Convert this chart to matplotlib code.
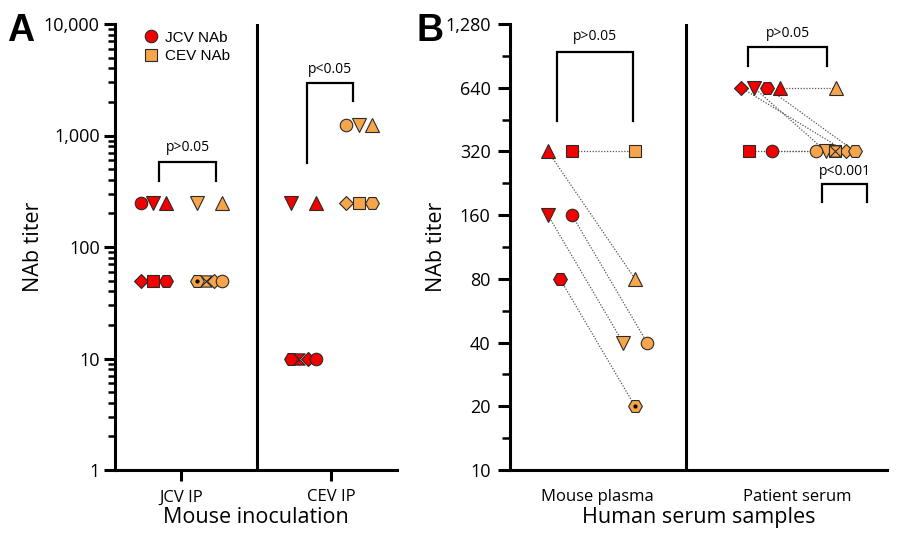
import numpy as np
import matplotlib
matplotlib.use("Agg")
import matplotlib.pyplot as plt
from matplotlib.path import Path
from matplotlib.lines import Line2D
from matplotlib.ticker import FixedLocator, NullFormatter

plt.rcParams['font.family'] = ['Open Sans', 'DejaVu Sans']

# ---------------- Data ----------------
# Panel A
a_groups = ['JCV IP', 'CEV IP']
a_yticks = [1, 10, 100, 1000, 10000]
a_yticklabels = ['1', '10', '100', '1,000', '10,000']

a_jcvip_jcv_shapes = ['circle', 'down', 'up', 'diamond', 'square', 'hexagon']
a_jcvip_jcv = [250, 250, 250, 50, 50, 50]
a_jcvip_cev_shapes = ['down', 'up', 'hexdot', 'bowtie', 'diamond', 'circle']
a_jcvip_cev = [250, 250, 50, 50, 50, 50]
a_cevip_jcv_shapes = ['down', 'up', 'hexagon', 'bowtie', 'diamond', 'circle']
a_cevip_jcv = [250, 250, 10, 10, 10, 10]
a_cevip_cev_shapes = ['circle', 'down', 'up', 'diamond', 'square', 'hexagon']
a_cevip_cev = [1250, 1250, 1250, 250, 250, 250]

# Panel B
b_groups = ['Mouse plasma', 'Patient serum']
b_yticks = [10, 20, 40, 80, 160, 320, 640, 1280]
b_yticklabels = ['10', '20', '40', '80', '160', '320', '640', '1,280']

mouse_shapes = ['up', 'square', 'down', 'circle', 'hexagon']
mouse_jcv = [320, 320, 160, 160, 80]
mouse_cev = [80, 320, 40, 40, 20]

patient_shapes = ['diamond', 'down', 'hexagon', 'up', 'square', 'circle']
patient_jcv = [640, 640, 640, 640, 320, 320]
patient_cev = [320, 320, 320, 640, 320, 320]
patient_cev_extra_shapes = ['bowtie']
patient_cev_extra = [320]

# ---------------- Layout (positions / styles) ----------------
off_a_jcvip_jcv = [-0.267, -0.187, -0.10, -0.267, -0.187, -0.10]
off_a_jcvip_cev = [0.107, 0.273, 0.107, 0.167, 0.22, 0.273]
off_a_cevip_jcv = [-0.267, -0.10, -0.267, -0.213, -0.153, -0.10]
off_a_cevip_cev = [0.10, 0.187, 0.273, 0.10, 0.187, 0.273]

off_mouse_jcv = [-0.245, -0.125, -0.245, -0.125, -0.185]
off_mouse_cev = [0.19, 0.19, 0.13, 0.25, 0.19]
off_pat_jcv = [-0.28, -0.215, -0.15, -0.085, -0.24, -0.125]
off_pat_cev = [0.245, 0.145, 0.29, 0.195, 0.19, 0.095]
off_pat_cev_extra = [0.19]

RED = '#F20000'
ORANGE = '#F7A54C'
EDGE = '#2a2a2a'
MS = 9.0

bowtie = Path([(-1, 1), (1, 1), (0, 0), (1, -1), (-1, -1), (0, 0), (-1, 1)],
              [Path.MOVETO, Path.LINETO, Path.LINETO, Path.LINETO, Path.LINETO,
               Path.LINETO, Path.CLOSEPOLY])

MARK = {'circle': ('o', 1.0), 'down': ('v', 1.05), 'up': ('^', 1.05),
        'diamond': ('D', 0.82), 'square': ('s', 0.95), 'hexagon': ('H', 1.1),
        'hexdot': ('H', 1.1), 'bowtie': (bowtie, 0.9)}


def draw_point(ax, x, y, shape, color):
    m, s = MARK[shape]
    ax.plot([x], [y], linestyle='none', marker=m, markersize=MS * s,
            markerfacecolor=color, markeredgecolor=EDGE, markeredgewidth=0.8,
            zorder=4)
    if shape == 'hexdot':
        ax.plot([x], [y], linestyle='none', marker='o', markersize=2,
                color='black', zorder=5)


def bracket(ax, x0, x1, ytop, yl, yr, text, ty, lw=1.6):
    ax.plot([x0, x0, x1, x1], [yl, ytop, ytop, yr], color='black', lw=lw,
            solid_joinstyle='miter', zorder=3, clip_on=False)
    ax.text((x0 + x1) / 2, ty, text, ha='center', va='center', fontsize=10)


fig = plt.figure(figsize=(9, 5.35), dpi=100)

# ---------------- Panel A ----------------
axA = fig.add_axes([115 / 900, 65 / 535, 282 / 900, 446 / 535])
axA.set_yscale('log')
axA.set_ylim(1, 10000)
axA.set_xlim(-0.44, 1.44)

for xs, vals, shapes, offs, col in [
        (0, a_jcvip_jcv, a_jcvip_jcv_shapes, off_a_jcvip_jcv, RED),
        (0, a_jcvip_cev, a_jcvip_cev_shapes, off_a_jcvip_cev, ORANGE),
        (1, a_cevip_jcv, a_cevip_jcv_shapes, off_a_cevip_jcv, RED),
        (1, a_cevip_cev, a_cevip_cev_shapes, off_a_cevip_cev, ORANGE)]:
    for v, sh, o in zip(vals, shapes, offs):
        draw_point(axA, xs + o, v, sh, col)

axA.axvline(0.507, color='black', lw=2.2, zorder=2)
bracket(axA, -0.147, 0.233, 578, 391, 391, 'p>0.05', 773)
bracket(axA, 0.84, 1.147, 2930, 561, 2060, 'p<0.05', 3900)

axA.set_xticks([0, 1])
axA.set_xticklabels(a_groups, fontsize=12)
axA.yaxis.set_major_locator(FixedLocator(a_yticks))
axA.set_yticklabels(a_yticklabels, fontsize=13)
minors = [m * 10 ** d for d in range(4) for m in range(2, 10)]
axA.yaxis.set_minor_locator(FixedLocator(minors))
axA.yaxis.set_minor_formatter(NullFormatter())
axA.tick_params(axis='y', which='major', length=8, width=2.2, pad=3)
axA.tick_params(axis='y', which='minor', length=5, width=1.8)
axA.tick_params(axis='x', which='major', length=8, width=2.2, pad=6)
for s in ['top', 'right']:
    axA.spines[s].set_visible(False)
for s in ['left', 'bottom']:
    axA.spines[s].set_linewidth(2.2)

axA.set_ylabel('NAb titer', fontsize=15.5)
axA.yaxis.set_label_coords(-0.29, 0.5)
axA.yaxis.label.set_va('center')
axA.set_xlabel('Mouse inoculation', fontsize=15.5)
axA.xaxis.set_label_coords(0.5, -0.107)
axA.xaxis.label.set_va('center')

leg_handles = [
    Line2D([], [], linestyle='none', marker='o', markersize=MS, markerfacecolor=RED,
           markeredgecolor=EDGE, markeredgewidth=0.8, label='JCV NAb'),
    Line2D([], [], linestyle='none', marker='s', markersize=MS * 0.95,
           markerfacecolor=ORANGE, markeredgecolor=EDGE, markeredgewidth=0.8,
           label='CEV NAb')]
axA.legend(handles=leg_handles, loc='upper left', bbox_to_anchor=(0.10, 0.985),
           frameon=False, borderpad=0, borderaxespad=0, handlelength=1.0,
           handletextpad=0.45, labelspacing=0.3,
           prop={'family': 'Liberation Sans', 'size': 11})

# ---------------- Panel B ----------------
axB = fig.add_axes([510 / 900, 65 / 535, 377 / 900, 446 / 535])
axB.set_yscale('log', base=2)
axB.set_ylim(10, 1280)
axB.set_xlim(-0.435, 1.45)

for sh, vj, vc, oj, oc in zip(mouse_shapes, mouse_jcv, mouse_cev,
                              off_mouse_jcv, off_mouse_cev):
    axB.plot([oj, oc], [vj, vc], color='#555555', lw=0.9, ls=(0, (1, 1.3)), zorder=2)
    draw_point(axB, oj, vj, sh, RED)
    draw_point(axB, oc, vc, 'hexdot' if sh == 'hexagon' else sh, ORANGE)

for sh, vj, vc, oj, oc in zip(patient_shapes, patient_jcv, patient_cev,
                              off_pat_jcv, off_pat_cev):
    axB.plot([1 + oj, 1 + oc], [vj, vc], color='#555555', lw=0.9, ls=(0, (1, 1.3)),
             zorder=2)
    draw_point(axB, 1 + oj, vj, sh, RED)
for sh, vc, oc in zip(patient_shapes + patient_cev_extra_shapes,
                      patient_cev + patient_cev_extra,
                      off_pat_cev + off_pat_cev_extra):
    draw_point(axB, 1 + oc, vc, sh, ORANGE)

axB.axvline(0.445, color='black', lw=2.2, zorder=2)
bracket(axB, -0.2, 0.18, 944, 446, 446, 'p>0.05', 1120)
bracket(axB, 0.755, 1.15, 997, 811, 811, 'p>0.05', 1160)
bracket(axB, 1.125, 1.35, 224.6, 184.7, 184.7, 'p<0.001', 256)

axB.set_xticks([0, 1])
axB.set_xticklabels(b_groups, fontsize=12)
axB.yaxis.set_major_locator(FixedLocator(b_yticks))
axB.set_yticklabels(b_yticklabels, fontsize=13)
bminors = [10 * 2 ** (k + 0.5) for k in range(7)]
axB.yaxis.set_minor_locator(FixedLocator(bminors))
axB.yaxis.set_minor_formatter(NullFormatter())
axB.tick_params(axis='y', which='major', length=9, width=2.2, pad=5)
axB.tick_params(axis='y', which='minor', length=6, width=1.8)
axB.tick_params(axis='x', which='major', length=0, pad=14)
for s in ['top', 'right']:
    axB.spines[s].set_visible(False)
for s in ['left', 'bottom']:
    axB.spines[s].set_linewidth(2.2)

axB.set_ylabel('NAb titer', fontsize=15.5)
axB.yaxis.set_label_coords(-0.196, 0.5)
axB.yaxis.label.set_va('center')
axB.set_xlabel('Human serum samples', fontsize=15.5)
axB.xaxis.set_label_coords(0.5, -0.107)
axB.xaxis.label.set_va('center')

# Panel letters
fig.text(21 / 900, 1 - 31 / 535, 'A', fontsize=27, fontweight='bold',
         family='Liberation Sans', ha='center', va='center')
fig.text(430 / 900, 1 - 31 / 535, 'B', fontsize=27, fontweight='bold',
         family='Liberation Sans', ha='center', va='center')

fig.savefig('out.png', dpi=100)
